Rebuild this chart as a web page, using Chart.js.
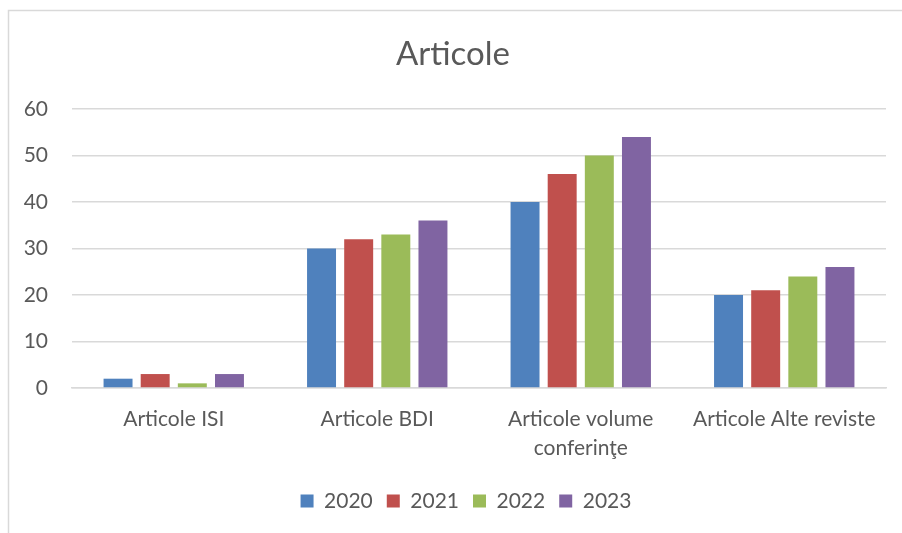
<!DOCTYPE html>
<html>
<head>
<meta charset="utf-8">
<script src="https://cdn.jsdelivr.net/npm/chart.js@4/dist/chart.umd.min.js"></script>
<style>
  html, body { margin: 0; padding: 0; background: #fff; }
  #wrap { width: 902px; height: 533px; position: relative; }
</style>
</head>
<body>
<div id="wrap"><canvas id="chart"></canvas></div>
<script>
const categories = ['Articole ISI', 'Articole BDI', ['Articole volume', 'conferinţe'], 'Articole Alte reviste'];
const years = ['2020', '2021', '2022', '2023'];
const values2020 = [2, 30, 40, 20];
const values2021 = [3, 32, 46, 21];
const values2022 = [1, 33, 50, 24];
const values2023 = [3, 36, 54, 26];
const yTicks = [0, 10, 20, 30, 40, 50, 60];

const colors = ['#4F81BD', '#C0504D', '#9BBB59', '#8064A2'];
const textColor = '#595959';
const fontFamily = 'Lato, "Open Sans", sans-serif';

const frame = {
  id: 'frame',
  afterLayout(chart) {
    // centre the legend under the plot area, as Excel does
    if (chart.legend) {
      chart.legend.left += 13;
      chart.legend.right += 13;
    }
  },
  beforeDraw(chart) {
    const ctx = chart.ctx;
    ctx.save();
    ctx.fillStyle = '#fff';
    ctx.fillRect(0, 0, chart.width, chart.height);
    ctx.strokeStyle = '#d9d9d9';
    ctx.lineWidth = 1.5;
    ctx.strokeRect(8.5, 10.5, chart.width + 10, chart.height + 10);
    ctx.restore();
  }
};

new Chart(document.getElementById('chart'), {
  type: 'bar',
  data: {
    labels: categories,
    datasets: [values2020, values2021, values2022, values2023].map((d, i) => ({
      label: years[i],
      data: d,
      backgroundColor: colors[i],
      categoryPercentage: 0.73,
      barPercentage: 0.78
    }))
  },
  options: {
    responsive: true,
    maintainAspectRatio: false,
    animation: false,
    layout: { padding: { top: 35, left: 20, right: 16, bottom: 11.5 } },
    plugins: {
      title: {
        display: true,
        text: 'Articole',
        color: textColor,
        font: { family: fontFamily, size: 33, weight: 'normal', lineHeight: 1.2 },
        padding: { top: 0, bottom: 34.4 }
      },
      legend: {
        position: 'bottom',
        labels: {
          color: textColor,
          font: { family: fontFamily, size: 21 },
          boxWidth: 13,
          boxHeight: 13,
          padding: 14
        }
      },
      tooltip: { enabled: false }
    },
    scales: {
      x: {
        grid: { display: false, drawTicks: false },
        border: { color: '#d9d9d9', width: 1.5 },
        ticks: {
          color: textColor,
          font: { family: fontFamily, size: 21, lineHeight: 1.38 },
          padding: 16.5,
          maxRotation: 0,
          autoSkip: false
        },
        afterFit(scale) { scale.height = 88.5; }
      },
      y: {
        min: 0,
        max: 60,
        afterBuildTicks(scale) { scale.ticks = yTicks.map(v => ({ value: v })); },
        grid: { color: '#d9d9d9', lineWidth: 1.5, drawTicks: false },
        border: { display: false },
        ticks: {
          color: textColor,
          font: { family: fontFamily, size: 21 },
          padding: 24
        },
        afterFit(scale) { scale.width = 52; }
      }
    }
  },
  plugins: [frame]
});
</script>
</body>
</html>
